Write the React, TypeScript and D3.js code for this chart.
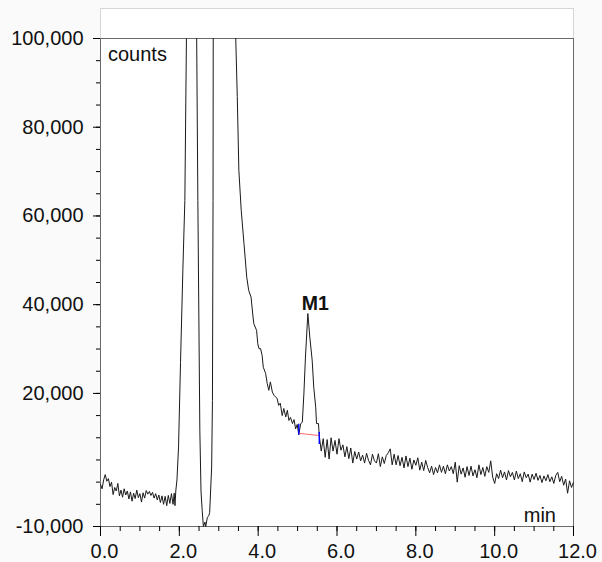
import { useEffect, useRef } from 'react';
import * as d3 from 'd3';

type Pt = [number, number];

// retention time (min), detector response (counts)
const preFront: Pt[] = [
  [0.0, -500], [0.04, -1500], [0.08, 500], [0.12, 1700], [0.16, 200], [0.2, 800],
  [0.24, -1000], [0.28, 0], [0.32, -2800], [0.36, -1200], [0.4, -2000], [0.44, -300],
  [0.48, -3100], [0.52, -1800], [0.56, -3400], [0.6, -1500], [0.64, -2900], [0.68, -2000],
  [0.72, -3800], [0.76, -2200], [0.8, -4300], [0.84, -2500], [0.88, -3700], [0.92, -1800],
  [0.96, -3500], [1.0, -2600], [1.04, -4500], [1.08, -2400], [1.12, -3600], [1.16, -1900],
  [1.2, -2700], [1.24, -2100], [1.28, -3000], [1.32, -2300], [1.36, -3600], [1.4, -2600],
  [1.44, -4000], [1.48, -2900], [1.52, -4600], [1.56, -3100], [1.6, -5000], [1.64, -3200],
  [1.68, -5300], [1.72, -3000], [1.76, -4800], [1.8, -2600], [1.84, -5000], [1.87, -2500],
  [1.89, -5300], [1.91, -2000],
];

const solventFront: Pt[] = [
  [1.94, 500], [1.98, 7900], [2.03, 27000], [2.09, 48000], [2.14, 63500], [2.18, 100000],
  [2.24, 140000], [2.3, 160000], [2.36, 150000], [2.41, 125000], [2.44, 100000], [2.47, 63500],
  [2.52, 11700], [2.55, -2000], [2.58, -6400], [2.61, -10000], [2.65, -9000], [2.67, -10000],
  [2.71, -8000], [2.75, -7500], [2.77, -6800], [2.82, 3400], [2.84, 18400], [2.855, 63500],
  [2.86, 100000],
];

const mainPeakTail: Pt[] = [
  [2.92, 260000], [3.0, 480000], [3.1, 600000], [3.2, 500000], [3.3, 300000], [3.38, 160000],
  [3.43, 100500], [3.47, 86900], [3.51, 70300], [3.57, 61300], [3.64, 53800], [3.71, 46200],
  [3.76, 43200], [3.82, 41700], [3.87, 37200], [3.89, 35700], [3.96, 34200], [3.99, 31200],
  [4.02, 30100], [4.06, 30100], [4.1, 28600], [4.13, 25900], [4.19, 24500], [4.23, 22200],
  [4.27, 20700], [4.31, 22600], [4.36, 20300], [4.4, 19600], [4.44, 19200], [4.48, 18900],
  [4.52, 17300], [4.56, 17800], [4.61, 15000], [4.65, 16600], [4.7, 14700], [4.74, 16200],
  [4.78, 13900], [4.82, 14600], [4.87, 13200], [4.91, 14100], [4.95, 12000], [4.99, 13000],
  [5.03, 10700],
];

const m1Peak: Pt[] = [
  [5.08, 13200], [5.12, 13500], [5.16, 19900], [5.2, 28200], [5.26, 38000], [5.31, 32700],
  [5.37, 27500], [5.41, 21400], [5.46, 16900], [5.48, 13200], [5.53, 13200], [5.55, 10500],
];

const lateBaseline: Pt[] = [
  [5.6, 7000], [5.65, 9800], [5.7, 5600], [5.75, 9600], [5.8, 5200], [5.85, 10000],
  [5.9, 7000], [5.95, 9400], [6.0, 6300], [6.05, 9800], [6.1, 7200], [6.15, 8400],
  [6.2, 5700], [6.25, 8000], [6.3, 5300], [6.35, 7700], [6.4, 4300], [6.45, 6900],
  [6.5, 5200], [6.55, 6800], [6.6, 4800], [6.65, 6100], [6.7, 4300], [6.75, 6500],
  [6.8, 4900], [6.85, 3900], [6.9, 6300], [6.95, 4800], [7.0, 4300], [7.05, 6400],
  [7.1, 3500], [7.15, 5700], [7.2, 4200], [7.25, 6000], [7.3, 6600], [7.35, 7500],
  [7.4, 3900], [7.45, 6300], [7.5, 3900], [7.55, 6000], [7.6, 3700], [7.65, 5600],
  [7.7, 3200], [7.75, 5900], [7.8, 3500], [7.85, 5400], [7.9, 2900], [7.95, 5000],
  [8.0, 3800], [8.05, 5500], [8.1, 2700], [8.15, 4500], [8.2, 2600], [8.25, 4900],
  [8.3, 3300], [8.35, 2100], [8.4, 3600], [8.45, 1700], [8.5, 3300], [8.55, 2100],
  [8.6, 3900], [8.65, 2200], [8.7, 3600], [8.75, 1900], [8.8, 3900], [8.85, 2500],
  [8.9, 3500], [8.95, 1900], [9.0, 4500], [9.05, 0], [9.1, 3700], [9.15, 1800],
  [9.2, 3200], [9.25, 1100], [9.3, 3500], [9.35, 1500], [9.4, 3600], [9.45, 1400],
  [9.5, 2800], [9.55, 1000], [9.6, 3900], [9.65, 1700], [9.7, 3300], [9.75, 1300],
  [9.8, 3500], [9.85, 2200], [9.9, 4800], [9.95, 1100], [10.0, -300], [10.05, 1900],
  [10.1, 800], [10.15, 2700], [10.2, 1000], [10.25, 2300], [10.3, 500], [10.35, 2600],
  [10.4, 1200], [10.45, 2200], [10.5, 500], [10.55, 2500], [10.6, 800], [10.65, 1900],
  [10.7, 100], [10.75, 2300], [10.8, 1000], [10.85, 1800], [10.9, 0], [10.95, 1800],
  [11.0, 600], [11.05, 2000], [11.1, 400], [11.15, 1500], [11.2, -100], [11.25, 1400],
  [11.3, 300], [11.35, 1700], [11.4, 100], [11.45, 1200], [11.5, -300], [11.55, 1500],
  [11.6, 2200], [11.65, 100], [11.7, 1300], [11.75, -700], [11.8, 700], [11.85, -2500],
  [11.9, 300], [11.95, -1200], [12.0, 0],
];

const m1Label = 'M1';
const m1Apex: Pt = [5.26, 38000];
const m1BaseStart: Pt = [5.03, 11000];
const m1BaseEnd: Pt = [5.55, 10500];

const xMajorTicks = [0, 2, 4, 6, 8, 10, 12];
const xTickLabels = ['0.0', '2.0', '4.0', '6.0', '8.0', '10.0', '12.0'];
const yMajorTicks = [-10000, 20000, 40000, 60000, 80000, 100000];
const yTickLabels = ['-10,000', '20,000', '40,000', '60,000', '80,000', '100,000'];

export default function App() {
  const svgRef = useRef<SVGSVGElement>(null);

  useEffect(() => {
    if (!svgRef.current) return;
    const svg = d3.select(svgRef.current);
    svg.selectAll('*').remove();

    const left = 100, right = 573, top = 38, bottom = 526;
    const font = '"Liberation Sans", Arial, sans-serif';

    const x = d3.scaleLinear().domain([0, 12]).range([left, right]);
    const y = d3.scaleLinear().domain([-10000, 100000]).range([bottom, top]);

    // background + outer light frame
    svg.append('rect').attr('width', 602).attr('height', 562).attr('fill', '#fafafa');
    svg.append('rect')
      .attr('x', left + 0.5).attr('y', 8.5)
      .attr('width', right - left).attr('height', bottom - 8)
      .attr('fill', '#ffffff').attr('stroke', '#d6d6d6');

    // plot frame
    svg.append('rect')
      .attr('x', left + 0.5).attr('y', top + 0.5)
      .attr('width', right - left).attr('height', bottom - top)
      .attr('fill', 'none').attr('stroke', '#6a6a6a');

    // clip
    svg.append('defs').append('clipPath').attr('id', 'plotClip')
      .append('rect')
      .attr('x', left).attr('y', top)
      .attr('width', right - left + 1).attr('height', bottom - top + 1);

    const trace = [...preFront, ...solventFront, ...mainPeakTail, ...m1Peak, ...lateBaseline];
    const line = d3.line<Pt>().x(d => x(d[0]) + 0.5).y(d => y(d[1]) + 0.5);

    const plot = svg.append('g').attr('clip-path', 'url(#plotClip)');
    plot.append('path')
      .datum(trace)
      .attr('fill', 'none')
      .attr('stroke', '#1a1a1a')
      .attr('stroke-width', 1)
      .attr('stroke-linejoin', 'round')
      .attr('d', line);

    // M1 integration baseline and markers
    plot.append('line')
      .attr('x1', x(m1BaseStart[0]) + 0.5).attr('y1', y(m1BaseStart[1]) + 0.5)
      .attr('x2', x(m1BaseEnd[0]) + 0.5).attr('y2', y(m1BaseEnd[1]) + 0.5)
      .attr('stroke', '#ff6b6b').attr('stroke-width', 1);
    plot.append('line')
      .attr('x1', x(m1BaseStart[0]) + 0.5).attr('y1', y(m1BaseStart[1]) - 9)
      .attr('x2', x(m1BaseStart[0]) + 0.5).attr('y2', y(m1BaseStart[1]) + 2)
      .attr('stroke', '#0000ff').attr('stroke-width', 1.4);
    plot.append('line')
      .attr('x1', x(m1BaseEnd[0]) + 0.5).attr('y1', y(m1BaseEnd[1]) - 3)
      .attr('x2', x(m1BaseEnd[0]) + 0.5).attr('y2', y(m1BaseEnd[1]) + 9)
      .attr('stroke', '#0000ff').attr('stroke-width', 1.4);

    // Y axis
    const yMinor = svg.append('g').attr('transform', `translate(${left},0)`)
      .call(d3.axisLeft(y).tickValues(d3.range(-10000, 100001, 5000)).tickSize(4).tickFormat(() => ''));
    yMinor.select('.domain').remove();

    const yAxis = svg.append('g').attr('transform', `translate(${left},0)`)
      .call(d3.axisLeft(y).tickValues(yMajorTicks).tickSize(7).tickPadding(9.5)
        .tickFormat((_, i) => yTickLabels[i]));
    yAxis.select('.domain').remove();
    yAxis.selectAll('text')
      .style('font-family', font).style('font-size', '20px').attr('fill', '#111');

    // X axis
    const xMinor = svg.append('g').attr('transform', `translate(0,${bottom})`)
      .call(d3.axisBottom(x).tickValues(d3.range(0, 12.01, 0.5)).tickSize(5).tickFormat(() => ''));
    xMinor.select('.domain').remove();

    const xAxis = svg.append('g').attr('transform', `translate(0,${bottom})`)
      .call(d3.axisBottom(x).tickValues(xMajorTicks).tickSize(10).tickPadding(8)
        .tickFormat((_, i) => xTickLabels[i]));
    xAxis.select('.domain').remove();
    xAxis.selectAll('text')
      .attr('x', 4)
      .style('font-family', font).style('font-size', '20px').attr('fill', '#111');

    svg.selectAll('.tick line').attr('stroke', '#000');

    // labels
    svg.append('text')
      .attr('x', 108).attr('y', 61)
      .style('font-family', font).style('font-size', '20px').attr('fill', '#111')
      .text('counts');
    svg.append('text')
      .attr('x', 556).attr('y', 521.5).attr('text-anchor', 'end')
      .style('font-family', font).style('font-size', '20px').attr('fill', '#111')
      .text('min');
    svg.append('text')
      .attr('x', x(m1Apex[0]) + 8).attr('y', y(m1Apex[1]) - 3)
      .attr('text-anchor', 'middle')
      .style('font-family', font).style('font-size', '19.5px').style('font-weight', 'bold')
      .attr('fill', '#111')
      .text(m1Label);
  }, []);

  return (
    <div style={{ position: 'absolute', left: 0, top: 0, width: 602, height: 562, background: '#fafafa' }}>
      <svg ref={svgRef} width={602} height={562} style={{ display: 'block' }} />
    </div>
  );
}
